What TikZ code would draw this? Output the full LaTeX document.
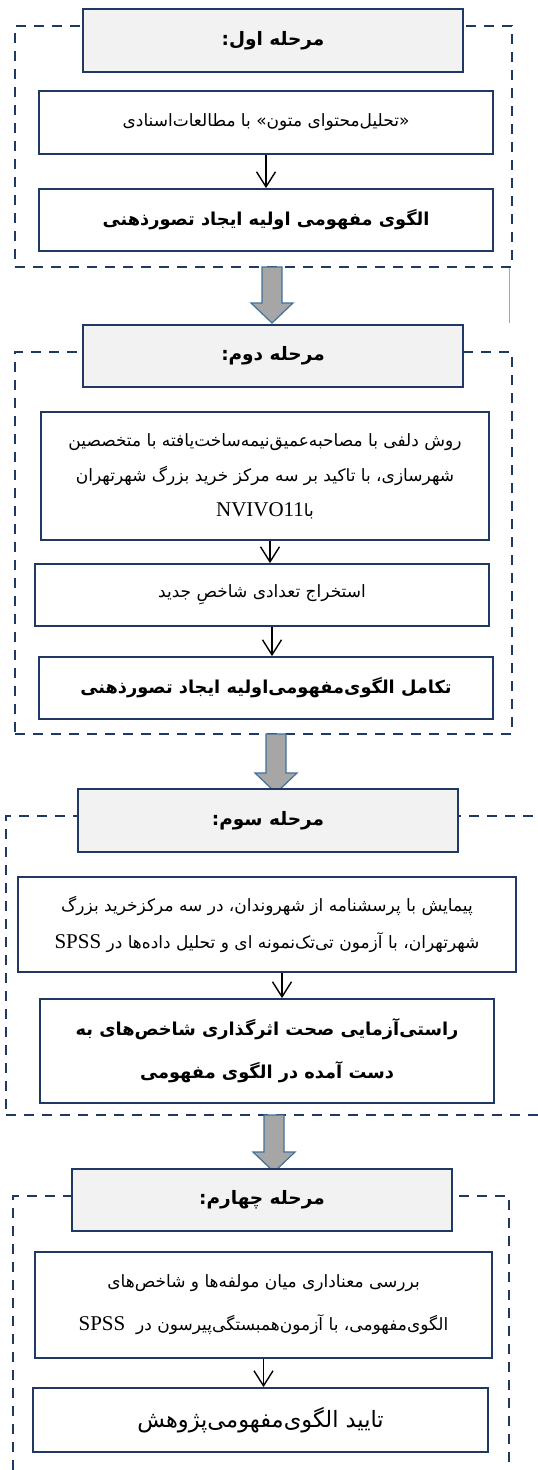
\documentclass[tikz,border=0pt]{standalone}
\usepackage{fontspec}
\setmainfont{DejaVu Sans}
\newfontfamily\fa[Script=Arabic]{DejaVu Sans}
\newfontfamily\latn{Liberation Serif}
\TeXXeTstate=1
\usetikzlibrary{calc,arrows.meta}
\definecolor{navy}{HTML}{1F3864}
\definecolor{headfill}{HTML}{F2F2F2}
\definecolor{fatfill}{HTML}{A6A6A6}
\definecolor{fatline}{HTML}{41719C}
\definecolor{stray}{HTML}{8FAADC}
\newcommand\RL[1]{\beginR#1\endR}
\newcommand\LT[1]{{\latn\fontsize{21}{30}\selectfont\beginL#1\endL}}
\newcommand\fatarr[2]{%
  \draw[fatarrow] ($(#1)+(-10,0)$) -- ($(#2)+(-10,-20)$) -- ($(#2)+(-21,-20)$) -- (#2)
    -- ($(#2)+(21,-20)$) -- ($(#2)+(10,-20)$) -- ($(#1)+(10,0)$) -- cycle;}
\tikzset{
  x=1pt, y=-1pt,
  dashbox/.style={draw=navy, line width=2pt, dash pattern=on 10pt off 8pt, rectangle, inner sep=0pt},
  header/.style={draw=navy, line width=1.8pt, fill=headfill, rectangle, inner sep=0pt,
     minimum width=380pt, font=\fa\bfseries\fontsize{18.5}{22}\selectfont},
  stepbox/.style={draw=navy, line width=1.8pt, fill=white, rectangle, inner sep=0pt, align=center,
     font=\fa\fontsize{17}{35}\selectfont},
  boldbox/.style={stepbox, font=\fa\bfseries\fontsize{17.8}{43}\selectfont},
  thin/.style={draw=black, line width=1.4pt, -{Straight Barb[length=15pt,width=19pt,line width=1.4pt]}},
  fatarrow/.style={draw=fatline, line width=1.2pt, fill=fatfill},
}
\begin{document}
\begin{tikzpicture}
\useasboundingbox (0,0) rectangle (538,1470);
% dashed frames
\node[dashbox, minimum width=497pt, minimum height=241pt] (d1) at (263.5,146.5) {};
\node[dashbox, minimum width=497pt, minimum height=382pt] (d2) at (263.5,543) {};
\node[dashbox, minimum width=564pt, minimum height=299pt] (d3) at (288,965.5) {};
\node[dashbox, minimum width=496pt, minimum height=310pt] (d4) at (261,1351) {};
% stage 1
\node[header, minimum height=63pt] (h1) at (273,40.5) {\RL{مرحله اول:}};
\node[stepbox, minimum width=454pt, minimum height=63pt] (b1a) at (266,122.5) {\RL{«تحلیل‌محتوای متون» با مطالعات‌اسنادی}};
\node[boldbox, minimum width=454pt, minimum height=62pt] (b1b) at (266,220) {\RL{الگوی مفهومی اولیه ایجاد تصورذهنی}};
\draw[thin] (b1a.south) -- (b1b.north);
\coordinate (f1s) at (272,267);
\coordinate (f1e) at (272,323);
\fatarr{f1s}{f1e}
\coordinate (s1) at (509,268);
\coordinate (s2) at (509,323);
\draw[stray, line width=1pt] (s1) -- (s2);
% stage 2
\node[header, minimum height=62pt] (h2) at (273,356) {\RL{مرحله دوم:}};
\node[stepbox, minimum width=448pt, minimum height=128pt] (b2a) at (265,476)
  {\RL{روش دلفی با مصاحبه‌عمیق‌نیمه‌ساخت‌یافته با متخصصین}\\\RL{شهرسازی، با تاکید بر سه مرکز خرید بزرگ شهرتهران}\\\RL{با\LT{NVIVO11}}};
\node[stepbox, minimum width=454pt, minimum height=62pt] (b2b) at (262,595) {\RL{استخراج تعدادی شاخصِ جدید}};
\node[boldbox, minimum width=454pt, minimum height=62pt] (b2c) at (266,688) {\RL{تکامل الگوی‌مفهومی‌اولیه ایجاد تصورذهنی}};
\draw[thin] ([xshift=5pt]b2a.south) -- ([xshift=5pt]b2a.south |- b2b.north);
\draw[thin] ([xshift=10pt]b2b.south) -- ([xshift=10pt]b2b.south |- b2c.north);
\coordinate (f2s) at (276,734);
\coordinate (f2e) at (276,793);
\fatarr{f2s}{f2e}
% stage 3
\node[header, minimum height=63pt] (h3) at (268,820.5) {\RL{مرحله سوم:}};
\node[stepbox, minimum width=498pt, minimum height=95pt, font=\fa\fontsize{17}{37}\selectfont] (b3a) at (267,924.5)
  {\RL{پیمایش با پرسشنامه از شهروندان، در سه مرکزخرید بزرگ}\\\RL{شهرتهران، با آزمون تی‌تک‌نمونه ای و تحلیل داده‌ها در \LT{SPSS}}};
\node[boldbox, minimum width=454pt, minimum height=104pt] (b3b) at (267,1051)
  {\RL{راستی‌آزمایی صحت اثرگذاری شاخص‌های به}\\\RL{دست آمده در الگوی مفهومی}};
\draw[thin] ([xshift=15pt]b3a.south) -- ([xshift=15pt]b3a.south |- b3b.north);
\coordinate (f3s) at (274,1115);
\coordinate (f3e) at (274,1172);
\fatarr{f3s}{f3e}
% stage 4
\node[header, minimum height=62pt] (h4) at (262,1200) {\RL{مرحله چهارم:}};
\node[stepbox, minimum width=457pt, minimum height=106pt, font=\fa\fontsize{17}{43}\selectfont] (b4a) at (263.5,1305)
  {\RL{بررسی معناداری میان مولفه‌ها و شاخص‌های}\\\RL{الگوی‌مفهومی، با آزمون‌همبستگی‌پیرسون در \ \LT{SPSS}}};
\node[stepbox, minimum width=455pt, minimum height=64pt, font=\fa\fontsize{22.5}{26}\selectfont] (b4b) at (260.5,1420) {\RL{تایید الگوی‌مفهومی‌پژوهش}};
\draw[thin] (b4a.south) -- (b4a.south |- b4b.north);
\end{tikzpicture}
\end{document}
